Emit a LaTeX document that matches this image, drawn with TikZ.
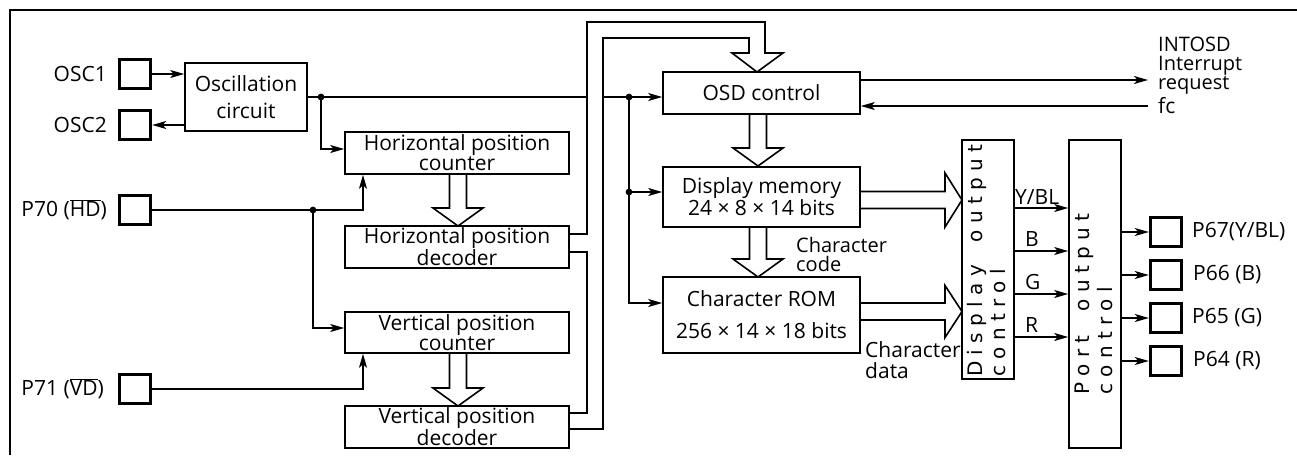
\documentclass[tikz,border=0pt]{standalone}
\usepackage{fontspec}
\setmainfont{Open Sans}
\newfontfamily\rotfont{DejaVu Sans}
\usetikzlibrary{arrows.meta}
\newcommand\lsz[1]{\fontsize{21}{#1}\selectfont}
\newcommand\vhol[3]{\draw[wire] (#1-8.5,#2) -- (#1-8.5,#3-18) -- (#1-25,#3-18) -- (#1,#3) -- (#1+25,#3-18) -- (#1+8.5,#3-18) -- (#1+8.5,#2);}
\newcommand\hhol[4]{\draw[wire] (#2,#1-8.5) -- (#3-17,#1-8.5) -- (#3-17,#1-#4) -- (#3,#1) -- (#3-17,#1+#4) -- (#3-17,#1+8.5) -- (#2,#1+8.5);}
\begin{document}
\begin{tikzpicture}[x=1pt,y=-1pt,
  every node/.style={inner sep=0pt, font=\lsz{18.5}},
  blk/.style={draw, line width=1.6pt, align=center},
  pad/.style={draw, line width=3.4pt, minimum width=31, minimum height=29},
  wire/.style={line width=1.6pt, line join=miter},
  arr/.style={wire, -{Stealth[length=14pt,width=8pt,inset=3.5pt]}},
  rot/.style={rotate=90, anchor=north west, align=left, font=\rotfont\fontsize{20}{23}\selectfont}]
\useasboundingbox (0,0) rectangle (1297,455);
\draw[line width=2.8pt] (10,455) -- (10,10) -- (1297,10);

% pads
\node[pad] (osc1) at (135,74) {};
\node[pad] (osc2) at (135,125) {};
\node[pad] (p70) at (135,210) {};
\node[pad] (p71) at (135,389) {};
\node[pad] (p67) at (1166,232) {};
\node[pad] (p66) at (1166,275) {};
\node[pad] (p65) at (1166,318) {};
\node[pad] (p64) at (1166,361) {};

% pad labels
\node[anchor=east] (losc1) at (107,74) {OSC1};
\node[anchor=east] (losc2) at (107,125) {OSC2};
\node[anchor=east] (lp70) at (107,210) {P70 ($\overline{\hbox{HD}}$)};
\node[anchor=east] (lp71) at (104,389) {P71 ($\overline{\hbox{VD}}$)};
\node[anchor=west] (lp67) at (1192,232) {P67(Y/BL)};
\node[anchor=west] (lp66) at (1193,275) {P66 (B)};
\node[anchor=west] (lp65) at (1192,318) {P65 (G)};
\node[anchor=west] (lp64) at (1193,361) {P64 (R)};

% blocks
\node[blk, minimum width=122, minimum height=68, font=\lsz{27}] (osc) at (246,97) {Oscillation\\circuit};
\node[blk, minimum width=224, minimum height=42] (hcnt) at (457,153) {Horizontal position\\counter};
\node[blk, minimum width=224, minimum height=42] (hdec) at (457,247) {Horizontal position\\decoder};
\node[blk, minimum width=224, minimum height=41] (vcnt) at (457,332.5) {Vertical position\\counter};
\node[blk, minimum width=224, minimum height=42] (vdec) at (457,427) {Vertical position\\decoder};
\node[blk, minimum width=197, minimum height=42] (osd) at (761.5,93) {OSD control};
\node[blk, minimum width=197, minimum height=60, font=\lsz{20}] (dmem) at (761.5,197) {Display memory\\24 × 8 × 14 bits};
\node[blk, minimum width=197, minimum height=76, font=\lsz{32}] (crom) at (761.5,315) {Character ROM\\256 × 14 × 18 bits};
\node[blk, minimum width=52, minimum height=239] (dout) at (988,259.5) {};
\node[blk, minimum width=52, minimum height=308] (pout) at (1095,294) {};
\node[rot] (dtxt) at (967,377) {D i s p l a y\hspace{16pt} o u t p u t\\c o n t r o l};
\node[rot] (ptxt) at (1074.5,395) {P o r t\hspace{18pt} o u t p u t\\c o n t r o l};

% coordinates
\coordinate (j1) at (321,97);
\coordinate (b1) at (587,97);
\coordinate (b2) at (603,97);
\coordinate (j3) at (629,97);
\coordinate (j4) at (629,192);
\coordinate (j5) at (629,303);
\coordinate (h1) at (321,149);
\coordinate (j2) at (313,210);
\coordinate (hup) at (363,210);
\coordinate (v1) at (313,328);
\coordinate (vup) at (363,389);
\coordinate (intr) at (1148,80);
\coordinate (fcin) at (1148,106);
\coordinate (sy) at (1014,208);
\coordinate (sb) at (1014,251);
\coordinate (sg) at (1014,294);
\coordinate (sr) at (1014,337);

% wires
\draw[arr] (osc1.east) -- (osc.west |- osc1.east);
\draw[arr] (osc.west |- osc2.east) -- (osc2.east);
\draw[wire] (osc.east) -- (j1) -- (b1);
\draw[arr] (b2) -- (osd.west |- b2);
\draw[arr] (j1) -- (h1) -- (hcnt.west |- h1);
\draw[arr] (p70.east) -- (hup) -- (hcnt.south -| hup);
\draw[arr] (j2) -- (v1) -- (vcnt.west |- v1);
\draw[arr] (p71.east) -- (vup) -- (vcnt.south -| vup);
\draw[arr] (j3) -- (j5) -- (crom.west |- j5);
\draw[arr] (j4) -- (dmem.west |- j4);
\draw[arr] (osd.east |- intr) -- (intr);
\draw[arr] (fcin) -- (osd.east |- fcin);
\foreach \j in {j1,j2,j3,j4} \fill (\j) circle (3.4);

% bus into OSD control
\draw[wire] (569,234) -- (587,234) -- (587,22) -- (765,22) -- (765,53) -- (783,53) -- (757,72) -- (732,53) -- (749,53) -- (749,38) -- (603,38) -- (603,429) -- (569,429);
\draw[wire] (569,252) -- (587,252) -- (587,413) -- (569,413);

% hollow arrows
\vhol{458}{174}{226}
\vhol{458}{353}{406}
\vhol{758}{114}{166}
\vhol{758}{227}{277}
\hhol{200}{860}{962}{27}
\hhol{311.5}{860}{962}{26}

% signal lines
\draw[arr] (sy) -- (pout.west |- sy);
\draw[arr] (sb) -- (pout.west |- sb);
\draw[arr] (sg) -- (pout.west |- sg);
\draw[arr] (sr) -- (pout.west |- sr);
\node[anchor=base west] (ly) at (1015,204) {Y/BL};
\node[anchor=base west] (lb) at (1025,246) {B};
\node[anchor=base west] (lg) at (1025,289) {G};
\node[anchor=base west] (lr) at (1025,332) {R};

\draw[arr] (pout.east |- p67) -- (p67.west);
\draw[arr] (pout.east |- p66) -- (p66.west);
\draw[arr] (pout.east |- p65) -- (p65.west);
\draw[arr] (pout.east |- p64) -- (p64.west);

% text labels
\node[anchor=north west, align=left, font=\fontsize{20}{19}\selectfont] (intlbl) at (1158,37) {INTOSD\\Interrupt\\request};
\node[anchor=base west] (fclbl) at (1158,113) {fc};
\node[anchor=north west, align=left, font=\fontsize{20}{19.5}\selectfont] (ccode) at (796,237) {Character\\code};
\node[anchor=north west, align=left, font=\lsz{21}] (cdata) at (865,341) {Character\\data};
\end{tikzpicture}
\end{document}
